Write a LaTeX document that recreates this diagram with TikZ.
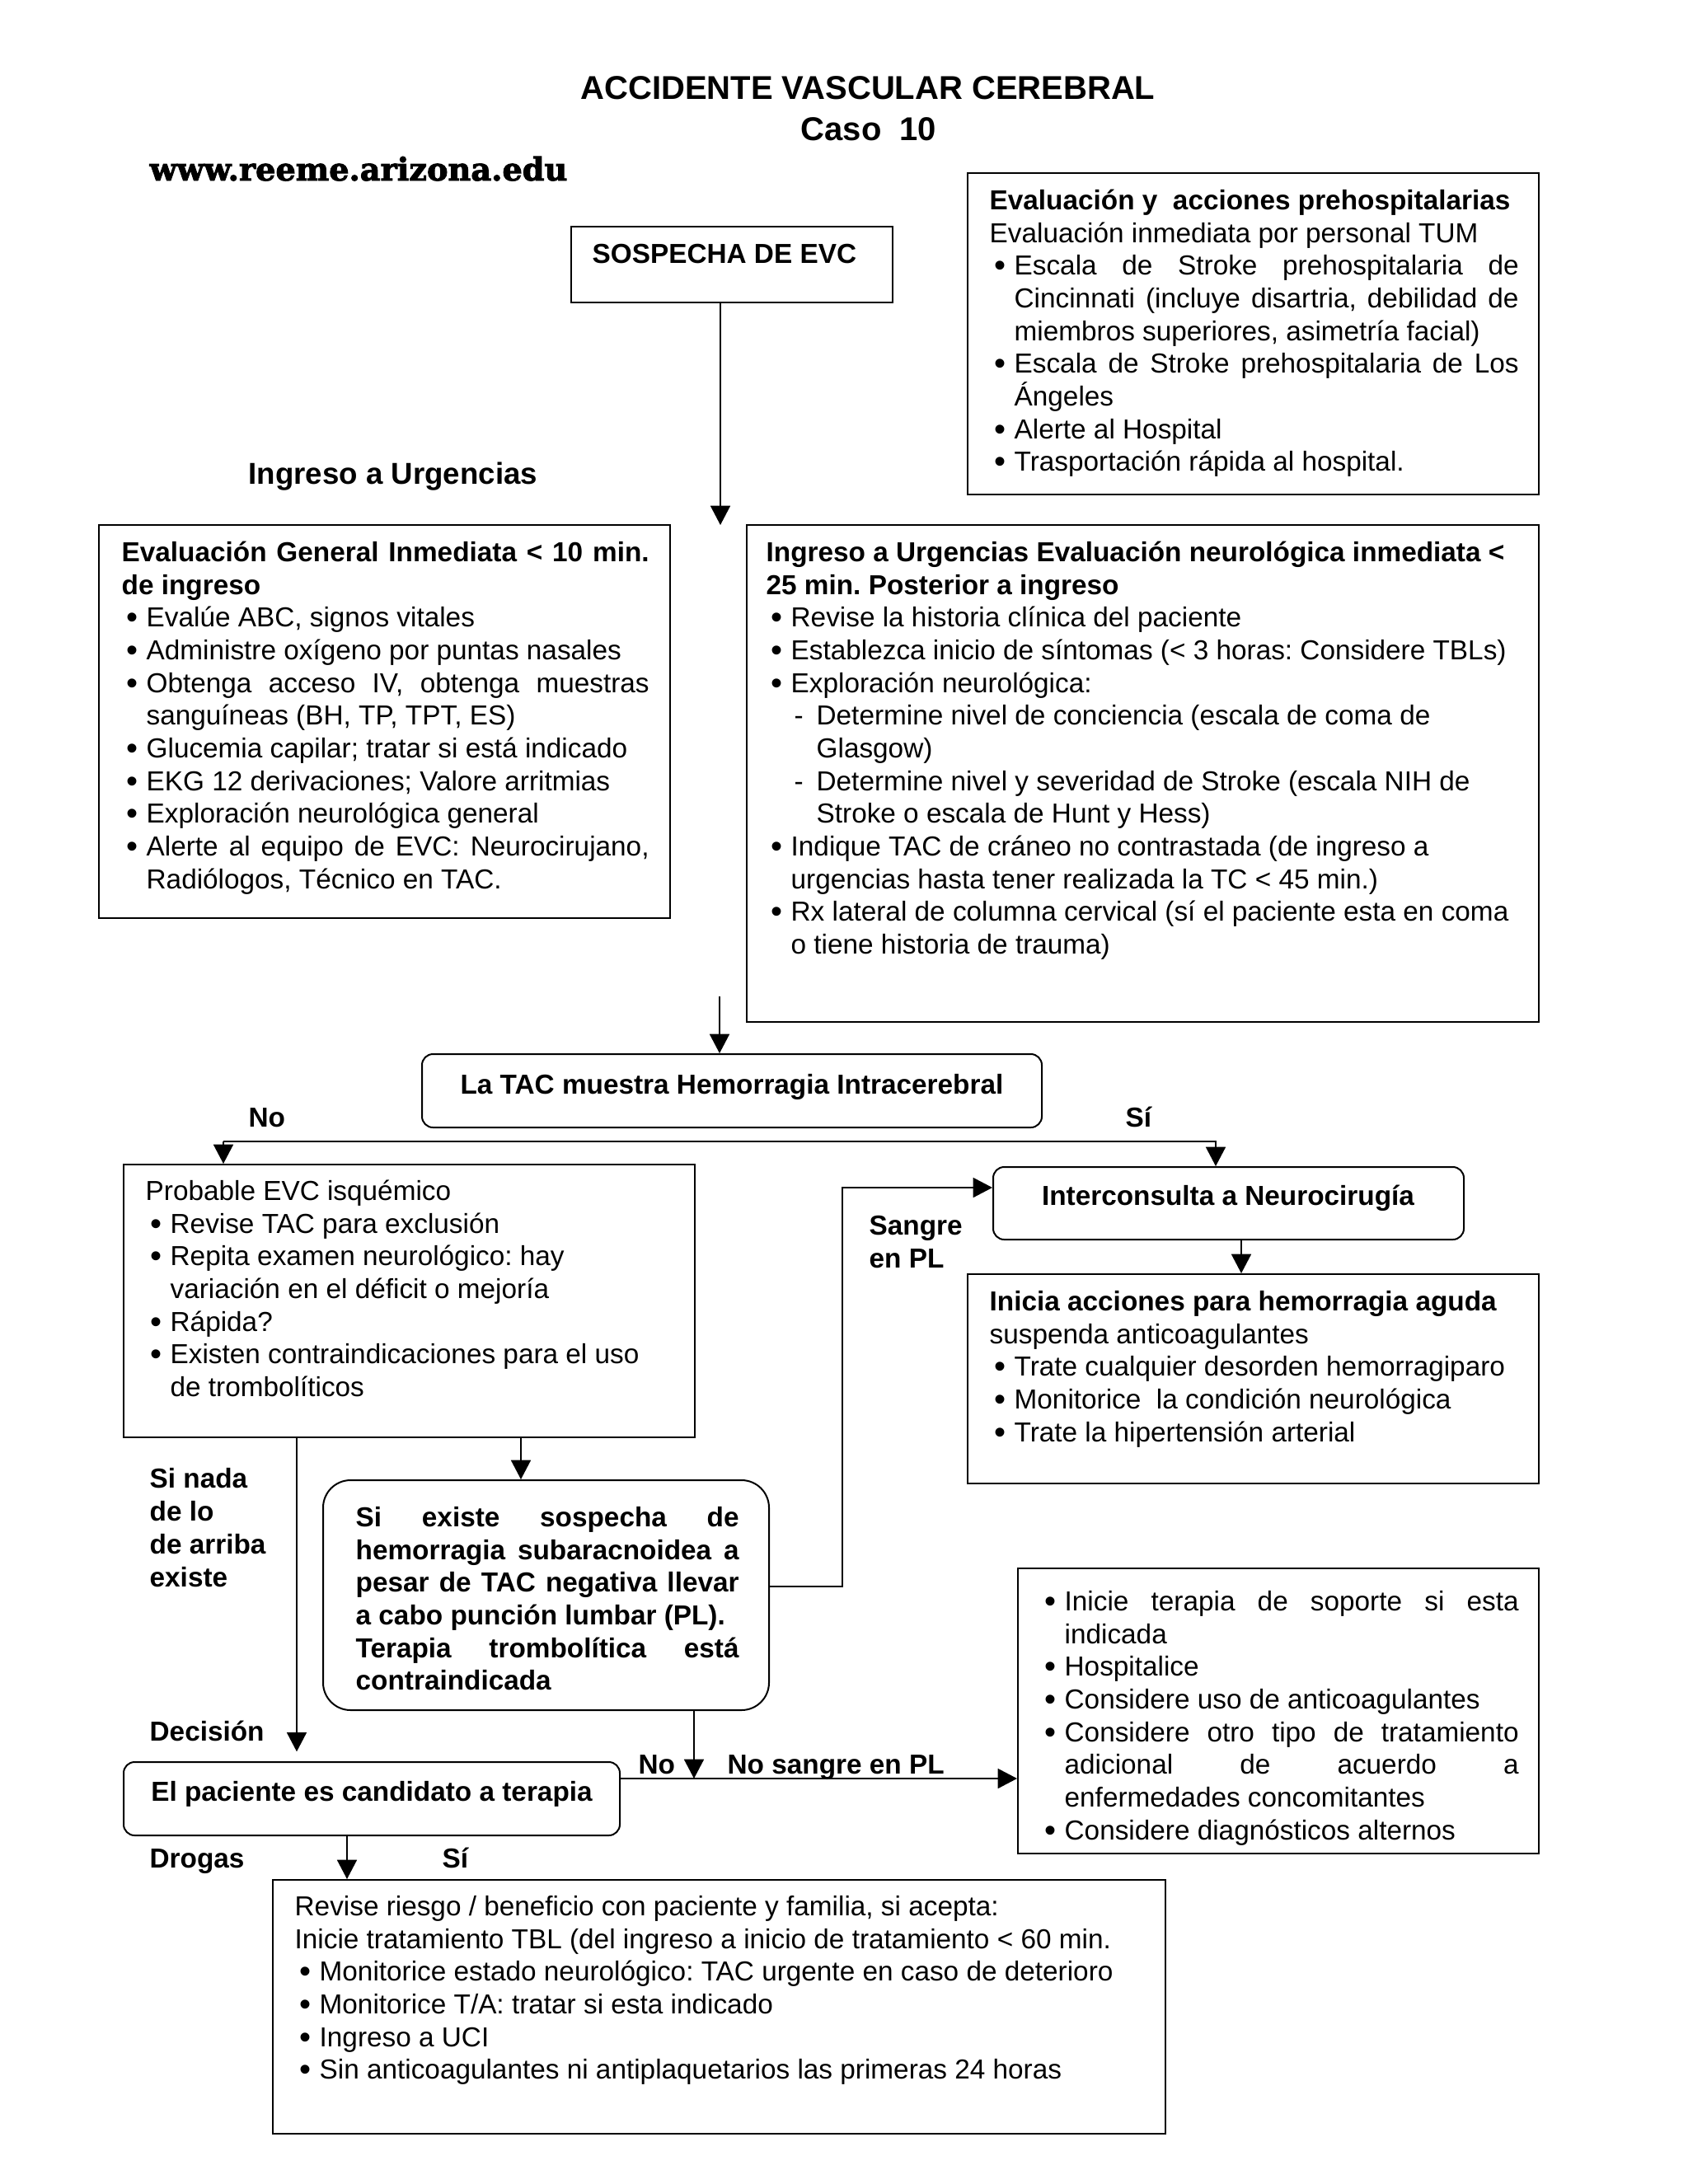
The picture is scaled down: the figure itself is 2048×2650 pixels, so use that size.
\documentclass[tikz,border=0pt]{standalone}
\usepackage{fontspec}
\setmainfont{Liberation Sans}
\newfontfamily\webfont{DejaVu Serif}[FakeBold=2.5]
\usetikzlibrary{arrows.meta,fit}
\frenchspacing
\newcommand\setp{\frenchspacing\parindent=0pt\parskip=0pt\leftskip=0pt\rightskip=0pt\parfillskip=0pt plus 1fil\tolerance=10000\hbadness=10000\hyphenpenalty=10000\exhyphenpenalty=10000\lineskiplimit=-20pt\relax}
\newcommand\brk{\unskip\nobreak\hfil\break}
\newcommand\bul{\makebox[9pt][l]{\hspace{1.8pt}\raisebox{-0.6pt}{\fontsize{12pt}{11.9pt}\selectfont\textbullet}}}
\newcommand\itm[1]{\par\hangindent=9pt\hangafter=1\noindent\bul\strut#1}
\newcommand\dsh[1]{\par\hangindent=18.3pt\hangafter=1\noindent\hspace*{10.2pt}\makebox[8.1pt][l]{-}\strut#1}
\tikzset{
  boxst/.style={draw, line width=0.6pt, inner sep=0pt},
  rbox/.style={boxst, rounded corners=4pt},
  arr/.style={line width=0.5pt, -{Triangle[length=7pt,width=7.2pt]}},
  txt/.style={anchor=north west, inner sep=0pt, text width=#1, align=justify},
  lbl/.style={anchor=base west, inner sep=0pt, font=\bfseries},
  ctr/.style={anchor=base, inner sep=0pt, font=\bfseries},
}
\begin{document}
\begin{tikzpicture}[x=0.3pt,y=-0.3pt,font=\fontsize{10pt}{11.9pt}\selectfont]
\useasboundingbox (0,0) rectangle (2048,2650);
\fill[white] (0,0) rectangle (2048,2650);

% titles
\node[ctr, font=\fontsize{12pt}{14pt}\selectfont\bfseries] (title) at (1053,120) {ACCIDENTE VASCULAR CEREBRAL};
\node[ctr, font=\fontsize{12pt}{14pt}\selectfont\bfseries] (caso) at (1054,170) {Caso\ \ 10};
\node[anchor=base west, inner sep=0pt] (web) at (181,219) {\resizebox{152pt}{!}{\webfont\bfseries www.reeme.arizona.edu}};
\node[lbl, font=\fontsize{11pt}{13pt}\selectfont\bfseries] (ingurg) at (301,587) {Ingreso a Urgencias};

% boxes
\node[boxst, fit={(693,275) (1083,367)}] (sosp) {};
\node[lbl] (sospt) at (718,319) {SOSPECHA DE EVC};

\node[boxst, fit={(1174,210) (1867,600)}] (preh) {};
\node[txt=192.6pt] (preht) at (1200,226) {\setp\strut\textbf{Evaluación y\ \ acciones prehospitalarias}\brk
Evaluación inmediata por personal TUM
\itm{Escala de Stroke prehospitalaria de\linebreak Cincinnati (incluye disartria, debilidad de\linebreak miembros superiores, asimetría facial)}
\itm{Escala de Stroke prehospitalaria de Los\linebreak Ángeles}
\itm{Alerte al Hospital}
\itm{Trasportación rápida al hospital.}\par};

\node[boxst, fit={(120,637) (813,1114)}] (geni) {};
\node[txt=192pt] (genit) at (147,653) {\setp\strut\textbf{Evaluación General Inmediata < 10 min.\linebreak de ingreso}
\itm{Evalúe ABC, signos vitales}
\itm{Administre oxígeno por puntas nasales}
\itm{Obtenga acceso IV, obtenga muestras\linebreak sanguíneas (BH, TP, TPT, ES)}
\itm{Glucemia capilar; tratar si está indicado}
\itm{EKG 12 derivaciones; Valore arritmias}
\itm{Exploración neurológica general}
\itm{Alerte al equipo de EVC: Neurocirujano,\linebreak Radiólogos, Técnico en TAC.}\par};

\node[boxst, fit={(906,637) (1867,1240)}] (neur) {};
\node[txt=277pt] (neurt) at (929,653) {\setp\strut\textbf{Ingreso a Urgencias Evaluación neurológica inmediata <\brk 25 min. Posterior a ingreso}
\itm{Revise la historia clínica del paciente}
\itm{Establezca inicio de síntomas (< 3 horas: Considere TBLs)}
\itm{Exploración neurológica:}
\dsh{Determine nivel de conciencia (escala de coma de\brk Glasgow)}
\dsh{Determine nivel y severidad de Stroke (escala NIH de\brk Stroke o escala de Hunt y Hess)}
\itm{Indique TAC de cráneo no contrastada (de ingreso a\brk urgencias hasta tener realizada la TC < 45 min.)}
\itm{Rx lateral de columna cervical (sí el paciente esta en coma\brk o tiene historia de trauma)}\par};

\node[rbox, fit={(512,1279) (1264,1368)}] (tac) {};
\node[ctr] (tact) at (888,1327) {La TAC muestra Hemorragia Intracerebral};
\node[lbl] (no1) at (301,1367) {No};
\node[lbl] (si1) at (1365,1367) {Sí};

\node[boxst, fit={(150,1413) (843,1744)}] (prob) {};
\node[txt=195pt] (probt) at (176,1428) {\setp\strut Probable EVC isquémico
\itm{Revise TAC para exclusión}
\itm{Repita examen neurológico: hay\brk variación en el déficit o mejoría}
\itm{Rápida?}
\itm{Existen contraindicaciones para el uso\brk de trombolíticos}\par};

\node[lbl, align=left, anchor=north west] (sangre) at (1054,1470) {\strut Sangre\\ en PL};

\node[rbox, fit={(1205,1416) (1776,1504)}] (inter) {};
\node[ctr] (intert) at (1490,1462) {Interconsulta a Neurocirugía};

\node[boxst, fit={(1174,1546) (1867,1800)}] (inic) {};
\node[txt=195pt] (inict) at (1200,1562) {\setp\strut\textbf{Inicia acciones para hemorragia aguda}\brk suspenda anticoagulantes
\itm{Trate cualquier desorden hemorragiparo}
\itm{Monitorice\ \ la condición neurológica}
\itm{Trate la hipertensión arterial}\par};

\node[lbl, align=left, anchor=north west] (sinada) at (181,1777) {\strut Si nada\\ de lo\\ de arriba\\ existe};

\node[boxst, rounded corners=10pt, fit={(392,1796) (933,2075)}] (sibox) {};
\node[txt=139.5pt, font=\fontsize{10pt}{11.9pt}\selectfont\bfseries] (siboxt) at (431,1824) {\setp\strut Si existe sospecha de\linebreak hemorragia subaracnoidea a\linebreak pesar de TAC negativa llevar\linebreak a cabo punción lumbar (PL).\brk Terapia trombolítica está\linebreak contraindicada\par};

\node[lbl] (decision) at (181,2112) {Decisión};
\node[lbl] (no2) at (774,2152) {No};
\node[lbl] (nosangre) at (882,2152) {No sangre en PL};

\node[rbox, fit={(150,2138) (752,2227)}] (pac) {};
\node[ctr] (pact) at (451,2185) {El paciente es candidato a terapia};

\node[lbl] (drogas) at (181,2266) {Drogas};
\node[lbl] (si2) at (536,2266) {Sí};

\node[boxst, fit={(331,2281) (1414,2589)}] (last) {};
\node[txt=315pt] (lastt) at (357,2296) {\setp\strut Revise riesgo / beneficio con paciente y familia, si acepta:\brk
Inicie tratamiento TBL (del ingreso a inicio de tratamiento < 60 min.
\itm{Monitorice estado neurológico: TAC urgente en caso de deterioro}
\itm{Monitorice T/A: tratar si esta indicado}
\itm{Ingreso a UCI}
\itm{Sin anticoagulantes ni antiplaquetarios las primeras 24 horas}\par};

\node[boxst, fit={(1235,1903) (1867,2249)}] (rb) {};
\node[txt=174.3pt] (rbt) at (1261,1914) {\setp
\itm{Inicie terapia de soporte si esta\linebreak indicada}
\itm{Hospitalice}
\itm{Considere uso de anticoagulantes}
\itm{Considere otro tipo de tratamiento\linebreak adicional de acuerdo a\linebreak enfermedades concomitantes}
\itm{Considere diagnósticos alternos}\par};

% connector coordinates
\coordinate (c1) at (874,637);
\coordinate (c2) at (873,1209);
\coordinate (hl) at (271,1385);
\coordinate (hr) at (1475,1385);
\coordinate (ix) at (1506,0);
\coordinate (px) at (632,0);
\coordinate (qx) at (360,0);
\coordinate (sp1) at (1022,1925);
\coordinate (sp2) at (1022,1441);
\coordinate (nj) at (842,2158);
\coordinate (dx) at (421,0);

% connectors
\draw[arr] (sosp.south -| c1) -- (c1);
\draw[arr] (c2) -- (c2 |- tac.north);
\draw[arr] (hl) -- (hr) -- (hr |- inter.north);
\draw[arr] (hl) -- (hl |- prob.north);
\draw[arr] (inter.south -| ix) -- (inic.north -| ix);
\draw[arr] (prob.south -| px) -- (sibox.north -| px);
\draw[arr, shorten >=3.5pt] (prob.south -| qx) -- (pac.north -| qx);
\draw[arr] (sibox.east |- sp1) -- (sp1) -- (sp2) -- (inter.west |- sp2);
\draw[arr] (sibox.south -| nj) -- (nj);
\draw[arr] (pac.east |- nj) -- (rb.west |- nj);
\draw[arr] (pac.south -| dx) -- (last.north -| dx);
\end{tikzpicture}
\end{document}
